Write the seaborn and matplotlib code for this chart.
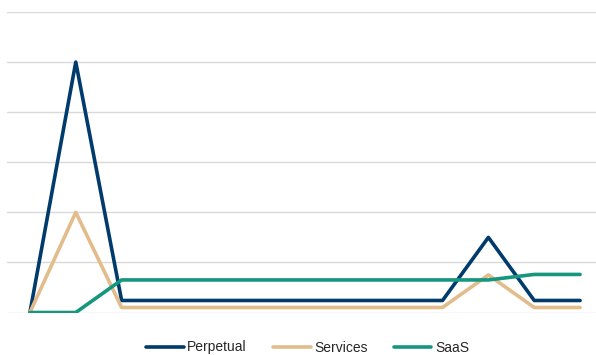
import numpy as np
import pandas as pd
import matplotlib
matplotlib.use("Agg")
import matplotlib.pyplot as plt
import seaborn as sns

# data (gridline step = 10)
periods = list(range(13))
perpetual = [0, 50, 2.4, 2.4, 2.4, 2.4, 2.4, 2.4, 2.4, 2.4, 15, 2.4, 2.4]
services = [0, 20, 1, 1, 1, 1, 1, 1, 1, 1, 7.5, 1, 1]
saas = [0, 0, 6.5, 6.5, 6.5, 6.5, 6.5, 6.5, 6.5, 6.5, 6.5, 7.6, 7.6]

series_names = ["Perpetual", "Services", "SaaS"]
colors = ["#003B6C", "#E2BD8B", "#17967F"]

df = pd.DataFrame({
    "period": periods * 3,
    "value": perpetual + services + saas,
    "series": sum([[n] * len(periods) for n in series_names], []),
})

sns.set_style("white")
plt.rcParams["font.family"] = ["Liberation Sans", "DejaVu Sans"]

fig = plt.figure(figsize=(5.96, 3.55), dpi=100)
ax = fig.add_axes([7 / 596, 1 - 312.5 / 355, 596 / 596, 300.5 / 355])

sns.lineplot(data=df, x="period", y="value", hue="series",
             palette=dict(zip(series_names, colors)), linewidth=2.6,
             sort=False, ax=ax, legend=True)

ax.set_xlim(-0.5, 12.5)
ax.set_ylim(0, 60)
ax.set_yticks(np.arange(0, 61, 10))
ax.yaxis.grid(True, color="#D9D9D9", linewidth=1.0)
ax.xaxis.grid(False)
ax.set_axisbelow(True)
ax.tick_params(left=False, bottom=False, labelleft=False, labelbottom=False)
for s in ax.spines.values():
    s.set_visible(False)
ax.set_xlabel("")
ax.set_ylabel("")

handles, labels = ax.get_legend_handles_labels()
ax.get_legend().remove()
fig.legend(handles, labels, loc="center", bbox_to_anchor=(307.5 / 596, 1 - 347.5 / 355),
           ncol=3, frameon=False, fontsize=10, handlelength=2.7,
           handletextpad=0.25, columnspacing=1.9)

fig.savefig("out.png", dpi=100)
